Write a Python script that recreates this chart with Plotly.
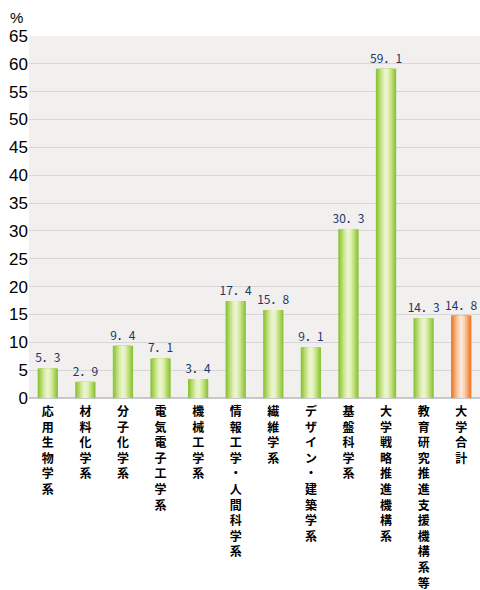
import plotly.graph_objs as go

# data
categories = ['応用生物学系', '材料化学系', '分子化学系', '電気電子工学系', '機械工学系',
              '情報工学・人間科学系', '繊維学系', 'デザイン・建築学系', '基盤科学系',
              '大学戦略推進機構系', '教育研究推進支援機構系等', '大学合計']
values = [5.3, 2.9, 9.4, 7.1, 3.4, 17.4, 15.8, 9.1, 30.3, 59.1, 14.3, 14.8]
y_ticks = list(range(0, 70, 5))

# vertical labels: one character per line
tick_text = ['<br>'.join(list(c)) for c in categories]
bar_text = [f'{v:.1f}'.replace('.', '．') for v in values]

# fake horizontal gradient by stacking narrower, lighter bars
greens = ['#8cc43c', '#9fce50', '#b5d96d', '#cae48d', '#dcedaf', '#eaf4cc']
oranges = ['#ee7b2b', '#f18f48', '#f4a76c', '#f7bf91', '#fad3b3', '#fce3cf']
widths = [0.54, 0.46, 0.38, 0.29, 0.2, 0.1]

data = []
for i, w in enumerate(widths):
    colors = [greens[i]] * (len(values) - 1) + [oranges[i]]
    data.append(go.Bar(
        x=categories, y=values, width=w,
        marker=dict(color=colors, line=dict(width=0)),
        text=bar_text if i == 0 else None,
        textposition='outside', cliponaxis=False, constraintext='none',
        textfont=dict(family='Noto Sans CJK JP', size=12, color='#1f3564'),
        hoverinfo='skip', showlegend=False
    ))

layout = go.Layout(
    width=480, height=590,
    margin=dict(l=29, r=0, t=36, b=192, autoexpand=False),
    paper_bgcolor='white', plot_bgcolor='#f1f0ef',
    barmode='overlay',
    xaxis=dict(
        tickmode='array', tickvals=categories, ticktext=tick_text,
        tickfont=dict(family='Noto Sans CJK JP', size=12, color='black', weight='bold'),
        tickangle=0, showgrid=False, showline=False, ticks='', automargin=False,
        ticklabelstandoff=5
    ),
    yaxis=dict(
        range=[0, 65], tickvals=y_ticks, automargin=False,
        tickfont=dict(family='Liberation Sans', size=17, color='black'),
        gridcolor='#d6d6d6', gridwidth=1, zeroline=True, zerolinecolor='#c8c8c8',
        showline=False, ticks=''
    ),
    annotations=[dict(text='%', x=0, y=1, xref='paper', yref='paper',
                      xanchor='center', yanchor='bottom', xshift=-13, yshift=8,
                      showarrow=False,
                      font=dict(family='Liberation Sans', size=15, color='black'))]
)

fig = go.Figure(data=data, layout=layout)
# drop the browser's default body margin so the chart sits at the page corner
fig.write_html('out.html', config={'displayModeBar': False},
               post_script="document.body.style.margin='0';")
